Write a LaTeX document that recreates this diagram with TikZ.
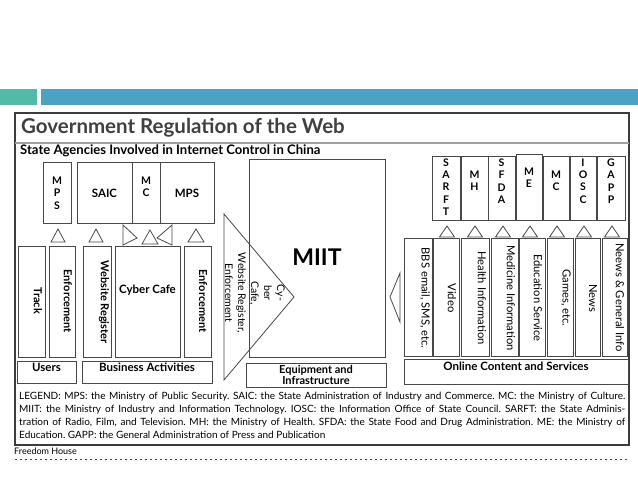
\documentclass[tikz,border=0pt]{standalone}
\usepackage{fontspec}
\setmainfont{Lato}
\frenchspacing
\definecolor{tealbar}{RGB}{84,186,168}
\definecolor{bluebar}{RGB}{76,162,194}
\definecolor{linec}{RGB}{72,72,72}
\definecolor{framec}{RGB}{60,60,60}
\definecolor{titlec}{RGB}{64,64,64}
\definecolor{sepc}{RGB}{160,160,160}
\tikzset{
  box/.style={draw=linec, line width=0.9pt},
  tri/.style={draw=linec, line width=0.8pt, line join=miter},
  lab/.style={inner sep=0pt, font=\bfseries\fontsize{11.5}{13}\selectfont},
  stack/.style={inner sep=0pt, align=center, font=\bfseries\fontsize{10.5}{12.4}\selectfont},
  vlabb/.style={inner sep=0pt, rotate=-90, font=\bfseries\fontsize{11}{13}\selectfont},
  vlab/.style={inner sep=0pt, rotate=-90, font=\fontsize{11.2}{13}\selectfont},
}
\begin{document}
\begin{tikzpicture}[x=1pt,y=-1pt]
\useasboundingbox (0,0) rectangle (638,479);
\fill[white] (0,0) rectangle (638,479);
% top bars
\fill[tealbar] (0,89) rectangle (37,105);
\fill[bluebar] (41,89) rectangle (638,105);
% frame
\draw[draw=framec, line width=1.1pt] (15,113) rectangle (629,445);
\draw[draw=sepc, line width=1.1pt] (15,143) -- (629,143);
\node[anchor=west, inner sep=0pt, text=titlec, font=\bfseries\fontsize{20.5}{24}\selectfont] (title) at (21,128) {Government Regulation of the Web};
\node[anchor=west, inner sep=0pt, font=\bfseries\fontsize{13.1}{14}\selectfont] (subtitle) at (20,151) {State Agencies Involved in Internet Control in China};

% ---- left top agencies
\draw[box] (43,162) rectangle (71,223);
\node[stack] (mpsA) at (57,193) {M\\P\\S};
\draw[box] (77,162) rectangle (214,223);
\draw[box] (132,162) -- (132,223);
\draw[box] (160,162) -- (160,223);
\node[lab] (saic) at (104.5,193) {SAIC};
\node[stack] (mcA) at (146,187) {M\\C};
\node[lab] (mpsB) at (187,193) {MPS};

% triangles left
\draw[tri] (51,242) -- (65,242) -- (58,229) -- cycle;
\draw[tri] (89,242) -- (103,242) -- (96,229) -- cycle;
\draw[tri] (123,225) -- (123,245) -- (137,238) -- cycle;
\draw[tri] (142,244) -- (158,244) -- (150,230) -- cycle;
\draw[tri] (172,225) -- (172,245) -- (157,238) -- cycle;
\draw[tri] (188,242) -- (204,242) -- (196,229) -- cycle;

% lower left boxes
\draw[box] (18,246) rectangle (45,357);
\node[vlabb] (track) at (38,301) {Track};
\draw[box] (49,246) rectangle (75,357);
\node[vlabb] (enfA) at (68,301) {Enforcement};
\draw[box] (83,246) rectangle (111,357);
\node[vlabb] (webreg) at (104,302) {Website Register};
\draw[box] (115,246) rectangle (180,357);
\node[lab] (cafe) at (147.5,290) {Cyber Cafe};
\draw[box] (184,246) rectangle (211,357);
\node[vlabb] (enfB) at (203,301) {Enforcement};
\draw[box] (17,361) rectangle (76,383);
\node[lab] (users) at (46.5,367) {Users};
\draw[box] (82,361) rectangle (212,383);
\node[lab] (business) at (147,367.5) {Business Activities};

% ---- middle
\draw[box] (249,159) rectangle (385,357);
\node[inner sep=0pt, font=\bfseries\fontsize{23}{26}\selectfont] (miit) at (317,257) {MIIT};
\draw[tri] (224,214) -- (224,380) -- (294,297) -- cycle;
\node[inner sep=0pt, rotate=-90, align=center, font=\fontsize{10.5}{13}\selectfont] (tritext) at (255,293) {Cy-\\ber\\Cafe,\\Website Register,\\Enforcement};
\draw[box] (246,363) rectangle (386,387);
\node[inner sep=0pt, align=center, font=\bfseries\fontsize{11}{11}\selectfont] (equip) at (316,375) {Equipment and\\Infrastructure};
\draw[tri] (400,273) -- (400,322) -- (390,297) -- cycle;

% ---- right top agencies
\draw[box] (432,156) rectangle (460,220);
\node[stack] (sarft) at (446,187) {S\\A\\R\\F\\T};
\draw[box] (461,156) rectangle (488,220);
\node[stack] (mh) at (474.5,181) {M\\H};
\draw[box] (488,156) rectangle (515,220);
\node[stack] (sfda) at (501.5,181) {S\\F\\D\\A};
\draw[box] (516,154) rectangle (542,220);
\node[stack] (me) at (529,178) {M\\E};
\draw[box] (543,156) rectangle (569,220);
\node[stack] (mcB) at (556,181) {M\\C};
\draw[box] (570,156) rectangle (596,220);
\node[stack] (iosc) at (583,181) {I\\O\\S\\C};
\draw[box] (597,156) rectangle (625,220);
\node[stack] (gapp) at (611,181) {G\\A\\P\\P};

% triangles right
\foreach \cx in {447,475,503,530,557,584,612}{
  \draw[tri] (\cx-7.5,237) -- (\cx+7.5,237) -- (\cx,226) -- cycle;
}

% lower right boxes
\draw[box] (404,238) rectangle (432,356);
\node[vlab] (bbs) at (425,298) {BBS email, SMS, etc.};
\draw[box] (433,238) rectangle (459,356);
\node[vlab] (video) at (452,298) {Video};
\draw[box] (461,238) rectangle (489,356);
\node[vlab] (health) at (482,298) {Health Information};
\draw[box] (491,238) rectangle (518,356);
\node[vlab] (medicine) at (511,298) {Medicine Information};
\draw[box] (519,238) rectangle (545,356);
\node[vlab] (education) at (538,298) {Education Service};
\draw[box] (547,238) rectangle (573,356);
\node[vlab] (games) at (566,298) {Games, etc.};
\draw[box] (575,238) rectangle (600,356);
\node[vlab] (news) at (593,298) {News};
\draw[box] (602,238) rectangle (627,356);
\node[vlab] (neews) at (620,297.5) {Neews \& General Info};
\draw[box] (404,359) rectangle (628,384);
\node[lab] (online) at (516,366.5) {Online Content and Services};

% ---- legend
\node[anchor=north west, inner sep=0pt, text width=606pt, align=justify, font=\fontsize{10}{13.3}\selectfont] (legend) at (19,391.5) {LEGEND: MPS: the Ministry of Public Security. SAIC: the State Administration of Industry and Commerce. MC: the Ministry of Culture.\linebreak MIIT: the Ministry of Industry and Information Technology. IOSC: the Information Office of State Council. SARFT: the State Adminis-\linebreak tration of Radio, Film, and Television. MH: the Ministry of Health. SFDA: the State Food and Drug Administration. ME: the Ministry of\linebreak Education. GAPP: the General Administration of Press and Publication};

\node[anchor=west, inner sep=0pt, font=\fontsize{9}{10}\selectfont] (source) at (14,451) {Freedom House};
\draw[draw=linec, line width=0.9pt, dash pattern=on 1.5pt off 3.5pt] (15,459) -- (630,459);
\end{tikzpicture}
\end{document}
